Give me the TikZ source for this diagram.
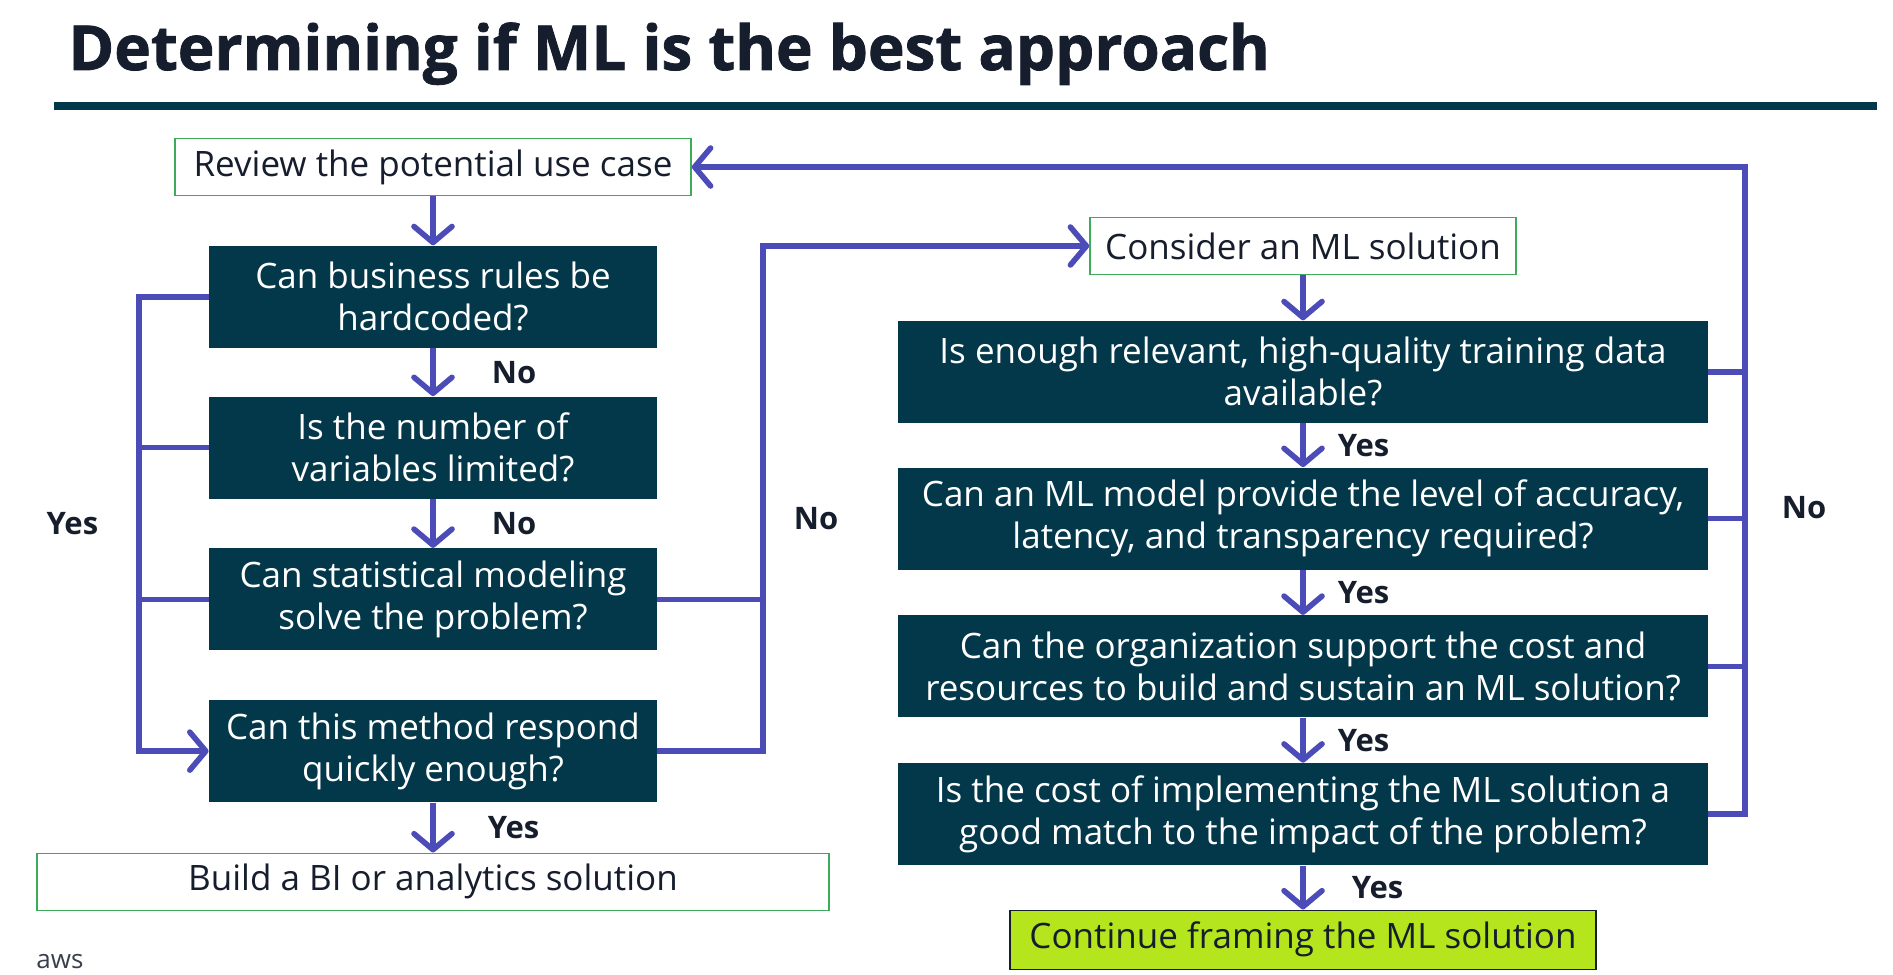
\documentclass[tikz,border=0pt]{standalone}
\usepackage{fontspec}
\setmainfont{Open Sans}
\newfontfamily\titlefont{Open Sans}[BoldFeatures={FakeBold=1.3}]
\usetikzlibrary{arrows.meta,positioning}
\definecolor{deepteal}{HTML}{02384A}
\definecolor{flowblue}{HTML}{4C4CB8}
\definecolor{edgegreen}{HTML}{3DAA5C}
\definecolor{limefill}{HTML}{B5E61D}
\definecolor{inkblue}{HTML}{161E2D}

\begin{document}
\begin{tikzpicture}[x=0.5pt,y=-0.5pt,
  >={Straight Barb[length=8pt,width=19pt,round]},
  question/.style={fill=deepteal,text=white,align=center,inner sep=2pt,
    font=\fontsize{17.5}{21}\selectfont,minimum height=51pt},
  leftq/.style={question,minimum width=224pt},
  rightq/.style={question,minimum width=405pt},
  outcome/.style={draw=edgegreen,line width=0.8pt,fill=white,text=inkblue,
    font=\fontsize{17.5}{21}\selectfont,minimum height=28.5pt},
  flow/.style={draw=flowblue,line width=2.8pt},
  answer/.style={font=\bfseries\fontsize{15.5}{18}\selectfont,text=inkblue,inner sep=0pt}]
\useasboundingbox (0,0) rectangle (1893,974);
\node[anchor=base west,inner sep=0pt,text=inkblue,font=\titlefont\bfseries\fontsize{31}{36}\selectfont]
  (title) at (68,70) {Determining if ML is the best approach};
\fill[deepteal] (54,102) rectangle (1877,110);

\node[outcome,minimum width=258pt] (review) at (433,167) {Review the potential use case};
\node[leftq,below=24.5pt of review] (hardcode) {Can business rules be\\hardcoded?};
\node[leftq,below=24pt of hardcode] (vars) {Is the number of\\variables limited?};
\node[leftq,below=24.5pt of vars] (stats) {Can statistical modeling\\solve the problem?};
\node[leftq,below=24.5pt of stats] (speed) {Can this method respond\\quickly enough?};
\node[outcome,minimum width=396pt,below=25pt of speed] (bi) {Build a BI or analytics solution};

\node[outcome,minimum width=213pt] (consider) at (1303,246) {Consider an ML solution};
\node[rightq,below=22.5pt of consider] (data) {Is enough relevant, high-quality training data\\available?};
\node[rightq,below=22pt of data] (accuracy) {Can an ML model provide the level of accuracy,\\latency, and transparency required?};
\node[rightq,below=22.5pt of accuracy] (cost) {Can the organization support the cost and\\resources to build and sustain an ML solution?};
\node[rightq,below=22.5pt of cost] (impact) {Is the cost of implementing the ML solution a\\good match to the impact of the problem?};
\node[outcome,draw=inkblue,fill=limefill,minimum width=293pt,minimum height=29.5pt,
  below=22pt of impact] (framing) {Continue framing the ML solution};

\coordinate (yesbus) at (139,0);
\coordinate (nobus) at (763,0);
\coordinate (mlbus) at (1745,0);

\draw[flow,->] (review) -- (hardcode);
\draw[flow,->] (hardcode) -- node[answer,anchor=west,xshift=28pt] {No} (vars);
\draw[flow,->] (vars) -- node[answer,anchor=west,xshift=28pt] {No} (stats);
\draw[flow,->] (speed) -- node[answer,anchor=west,xshift=26pt] {Yes} (bi);
\draw[flow,->] (hardcode.west) -- (hardcode.west -| yesbus)
  |- node[pos=0.25,answer,anchor=east,xshift=-19pt] {Yes} (speed.west);
\draw[flow] (vars.west) -- (vars.west -| yesbus);
\draw[flow] (stats.west) -- (stats.west -| yesbus);
\draw[flow,->] (speed.east) -- (speed.east -| nobus)
  |- node[pos=0.23,answer,anchor=west,xshift=14pt] {No} (consider.west);
\draw[flow] (stats.east) -- (stats.east -| nobus);

\draw[flow,->] (consider) -- (data);
\draw[flow,->] (data) -- node[answer,anchor=west,xshift=16pt] {Yes} (accuracy);
\draw[flow,->] (accuracy) -- node[answer,anchor=west,xshift=16pt] {Yes} (cost);
\draw[flow,->] (cost) -- node[answer,anchor=west,xshift=16pt] {Yes} (impact);
\draw[flow,->] (impact) -- node[answer,anchor=west,xshift=23pt] {Yes} (framing);
\draw[flow,->] (impact.east) -- (impact.east -| mlbus)
  |- node[pos=0.237,answer,anchor=west,xshift=17pt] {No} (review.east);
\draw[flow] (data.east) -- (data.east -| mlbus);
\draw[flow] (accuracy.east) -- (accuracy.east -| mlbus);
\draw[flow] (cost.east) -- (cost.east -| mlbus);

\node[anchor=base west,inner sep=0pt,text=inkblue!85,font=\fontsize{13}{13}\selectfont]
  (brand) at (36,968) {aws};
\end{tikzpicture}
\end{document}
